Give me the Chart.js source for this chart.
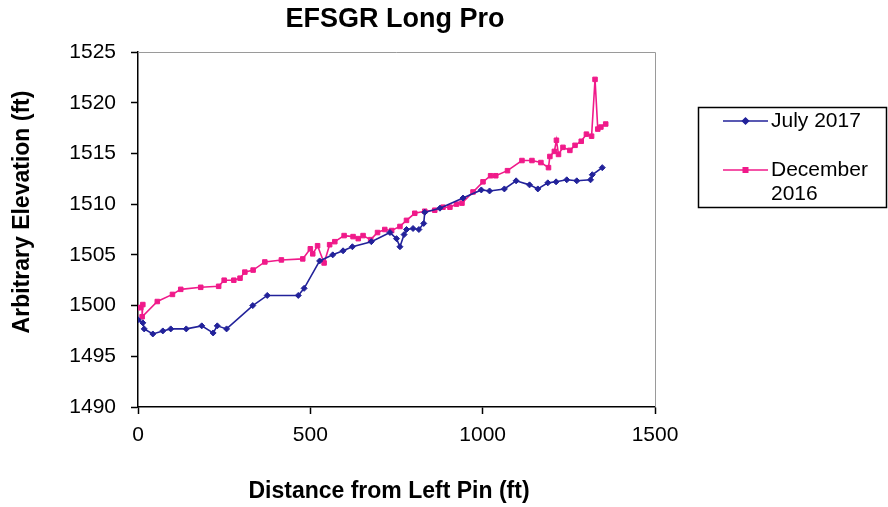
<!DOCTYPE html>
<html>
<head>
<meta charset="utf-8">
<style>
  html, body { margin: 0; padding: 0; background: #fff; }
  #wrap { width: 888px; height: 507px; }
</style>
<script src="https://cdn.jsdelivr.net/npm/chart.js@4/dist/chart.umd.min.js"></script>
</head>
<body>
<div id="wrap"><canvas id="chart-stat" width="888" height="507"></canvas></div>
<script>
'use strict';
// July 2017 survey
let julyX = [0, 14, 18, 43, 72, 95, 140, 185, 218, 230, 257, 333, 375, 465, 482, 527, 565, 595, 622, 677,
    731, 750, 760, 772, 779, 798, 815, 829, 832, 876, 943, 996, 1020, 1063, 1097, 1136, 1160, 1189, 1213,
    1244, 1273, 1313, 1318, 1347];
let julyY = [1498.6, 1498.3, 1497.7, 1497.2, 1497.5, 1497.7, 1497.7, 1498.0, 1497.3, 1498.0, 1497.7, 1500.0,
    1501.0, 1501.0, 1501.7, 1504.4, 1505.0, 1505.4, 1505.8, 1506.3, 1507.2, 1506.6, 1505.8, 1507.0, 1507.5,
    1507.6, 1507.5, 1508.1, 1509.2, 1509.6, 1510.6, 1511.4, 1511.3, 1511.5, 1512.3, 1511.9, 1511.5, 1512.1,
    1512.2, 1512.4, 1512.3, 1512.4, 1512.9, 1513.6];

// December 2016 survey
let decX = [0, 8, 14, 12, 56, 100, 124, 182, 234, 250, 278, 296, 310, 334, 368, 416, 478, 500, 507, 521,
    540, 556, 571, 598, 624, 639, 653, 675, 695, 716, 736, 760, 779, 803, 832, 861, 885, 905, 924, 940,
    972, 1001, 1023, 1038, 1072, 1114, 1143, 1169, 1191, 1195, 1208, 1214, 1220, 1233, 1253, 1268, 1286,
    1301, 1316, 1326, 1334, 1343, 1357];
let decY = [1499.8, 1499.8, 1500.1, 1498.9, 1500.4, 1501.1, 1501.6, 1501.8, 1501.9, 1502.5, 1502.5, 1502.7,
    1503.3, 1503.5, 1504.3, 1504.5, 1504.6, 1505.6, 1505.1, 1505.9, 1504.2, 1506.0, 1506.3, 1506.9, 1506.8,
    1506.6, 1506.9, 1506.5, 1507.2, 1507.5, 1507.4, 1507.8, 1508.4, 1509.1, 1509.3, 1509.4, 1509.7, 1509.7,
    1510.0, 1510.1, 1511.2, 1512.2, 1512.8, 1512.8, 1513.3, 1514.3, 1514.3, 1514.1, 1513.6, 1514.7, 1515.2,
    1516.3, 1514.9, 1515.6, 1515.3, 1515.8, 1516.2, 1516.9, 1516.7, 1522.3, 1517.4, 1517.6, 1517.9];

let xTicks = [0, 500, 1000, 1500];
let yTicks = [1490, 1495, 1500, 1505, 1510, 1515, 1520, 1525];

let seriesNames = ['July 2017', ['December', '2016']];
let blue = '#22229a';
let pink = '#f01a8a';
let font = '"Liberation Sans", Arial, Helvetica, sans-serif';

function ToPoints(xs, ys){
    return xs.map((x, i) => ({x: x, y: ys[i]}));
}

// titles, top/right frame and the boxed legend
let decor = {
    id: 'decor',
    afterDraw(chart){
        let c = chart.ctx;
        let a = chart.chartArea;
        c.save();
        c.strokeStyle = '#9a9a9a';
        c.lineWidth = 1;
        c.beginPath();
        c.moveTo(a.left, a.top + 0.5);
        c.lineTo(a.right + 0.5, a.top + 0.5);
        c.lineTo(a.right + 0.5, a.bottom);
        c.stroke();

        c.fillStyle = '#000';
        c.textAlign = 'center';
        c.textBaseline = 'middle';
        c.font = 'bold 27px ' + font;
        c.fillText('EFSGR Long Pro', 395, 20);
        c.font = 'bold 23px ' + font;
        c.fillText('Distance from Left Pin (ft)', 389, 492);
        c.save();
        c.translate(23, 212);
        c.rotate(-Math.PI / 2);
        c.fillText('Arbitrary Elevation (ft)', 0, 0);
        c.restore();

        // legend
        c.strokeStyle = '#000';
        c.lineWidth = 1.5;
        c.strokeRect(698.5, 107.5, 188, 100);
        let items = [
            {color: blue, style: 'rectRot', r: 3, y: 121, label: seriesNames[0]},
            {color: pink, style: 'rect', r: 3.2, y: 170, label: seriesNames[1]},
        ];
        items.forEach(item => {
            c.strokeStyle = item.color;
            c.fillStyle = item.color;
            c.lineWidth = 1.5;
            c.beginPath();
            c.moveTo(723, item.y);
            c.lineTo(768, item.y);
            c.stroke();
            Chart.helpers.drawPoint(c, {pointStyle: item.style, radius: item.r, borderWidth: 1}, 745.5, item.y);
            c.fill();
            c.fillStyle = '#000';
            c.textAlign = 'left';
            c.font = '21px ' + font;
            let lines = Array.isArray(item.label) ? item.label : [item.label];
            lines.forEach((line, i) => c.fillText(line, 771, item.y + i * 24));
        });
        c.restore();
    }
};

let ctx = document.getElementById('chart-stat').getContext('2d');
let chartStat = new Chart(ctx, {
    type: 'scatter',
    data: {
        datasets: [{
            label: 'July 2017',
            data: ToPoints(julyX, julyY),
            showLine: true,
            borderColor: blue,
            backgroundColor: blue,
            borderWidth: 1.6,
            pointStyle: 'rectRot',
            pointRadius: 3,
            pointBorderWidth: 1,
            tension: 0
        }, {
            label: 'December 2016',
            data: ToPoints(decX, decY),
            showLine: true,
            borderColor: pink,
            backgroundColor: pink,
            borderWidth: 1.6,
            pointStyle: 'rect',
            pointRadius: 3.2,
            pointBorderWidth: 1,
            tension: 0
        }]
    },
    options: {
        responsive: false,
        animation: false,
        layout: {padding: {top: 52, right: 233, left: 0, bottom: 0}},
        plugins: {legend: {display: false}, tooltip: {enabled: false}, title: {display: false}},
        scales: {
            x: {
                type: 'linear', min: 0, max: 1500,
                afterBuildTicks: s => { s.ticks = xTicks.map(v => ({value: v})); },
                afterFit: s => { s.height = 100; },
                grid: {drawOnChartArea: false, tickLength: 7, color: '#000', tickWidth: 1.5},
                border: {color: '#000', width: 1.5},
                ticks: {color: '#000', padding: 9, font: {family: font, size: 21}, maxRotation: 0,
                    callback: v => String(v)}
            },
            y: {
                type: 'linear', min: 1490, max: 1525,
                afterBuildTicks: s => { s.ticks = yTicks.map(v => ({value: v})); },
                afterFit: s => { s.width = 138; },
                grid: {drawOnChartArea: false, tickLength: 7, color: '#000', tickWidth: 1.5},
                border: {color: '#000', width: 1.5},
                ticks: {color: '#000', padding: 15, font: {family: font, size: 21},
                    callback: v => String(v)}
            }
        }
    },
    plugins: [decor]
});
</script>
</body>
</html>
